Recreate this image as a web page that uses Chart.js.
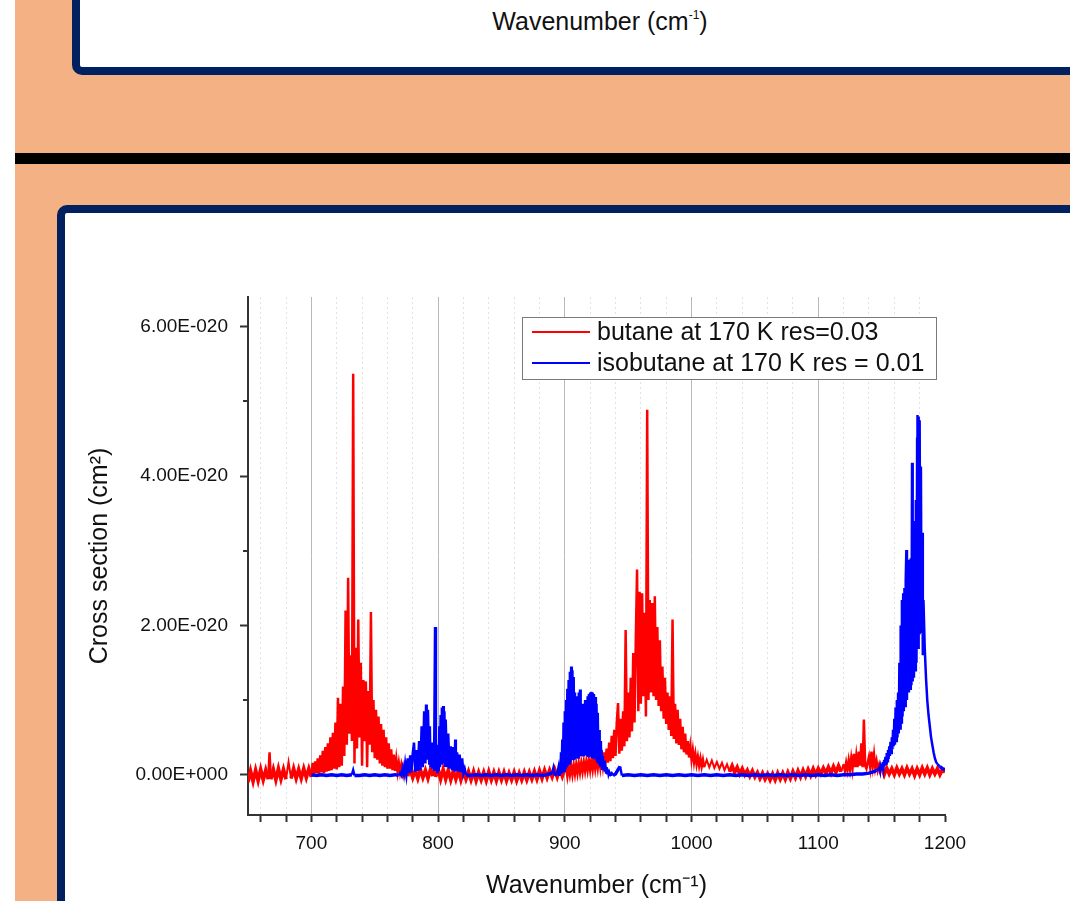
<!DOCTYPE html>
<html><head><meta charset="utf-8">
<script src="https://cdn.jsdelivr.net/npm/chart.js@4.4.1/dist/chart.umd.min.js"></script>
<style>
html,body{margin:0;padding:0;background:#fff;width:1070px;height:901px;overflow:hidden;font-family:'Liberation Sans',Arial,sans-serif;}
#bg{position:absolute;left:15px;top:0;width:1055px;height:901px;background:#F4B183;}
#topPanel{position:absolute;left:72px;top:-30px;width:1040px;height:105px;box-sizing:border-box;border:8px solid #002060;border-radius:10px;background:#fff;}
#topTitle{position:absolute;left:130px;width:940px;top:9px;text-align:center;font-size:25px;line-height:24px;color:#111;}
#topTitle sup{font-size:12px;line-height:0;vertical-align:0;position:relative;top:-11px;}
#bar{position:absolute;left:15px;top:153px;width:1055px;height:11px;background:#000;}
#botPanel{position:absolute;left:57px;top:205px;width:1060px;height:760px;box-sizing:border-box;border:8px solid #002060;border-radius:10px;background:#fff;}
#c{position:absolute;left:0;top:0;}
</style></head>
<body>
<div id="bg"></div>
<div id="topPanel"></div>
<div id="topTitle">Wavenumber (cm<sup>-1</sup>)</div>
<div id="bar"></div>
<div id="botPanel"></div>
<canvas id="c" width="1070" height="901"></canvas>
<script>
// ---- Data (cross section in units of 1E-20 cm^2) ----
const seriesLabels = ['butane at 170 K res=0.03', 'isobutane at 170 K res = 0.01'];

const butaneWn = [
  650,652,654,656,658,660,662,664,666,667,668,670,672,674,676,678,680,682,684,686,688,690,692,694,696,698,700,
  701,702,703,704,705,706,707,708,709,710,
  711,712,713,714,715,716,717,718,719,720,
  721,722,723,724,725,726,727,728,729,730,
  731,732,733,734,735,736,737,738,739,740,
  741,742,743,744,745,746,747,748,749,750,
  751,752,753,754,755,756,757,758,759,760,
  761,762,763,764,765,766,767,768,769,770,
  771,772,773,774,775,776,778,780,
  782,784,786,788,790,792,794,796,797,
  798,800,802,804,806,808,810,812,
  814,816,818,820,822,824,826,828,
  830,832,834,836,838,840,842,844,
  846,848,850,852,854,856,858,860,
  862,864,866,868,870,872,874,876,
  878,880,882,884,886,888,890,892,
  894,896,898,900,
  901,902,903,904,905,906,907,908,909,910,
  911,912,913,914,915,916,917,918,919,920,
  921,922,923,924,925,926,927,928,929,930,
  931,932,933,934,935,936,937,938,939,940,
  941,942,943,944,945,946,947,948,949,950,
  951,952,953,954,955,956,957,958,959,960,
  961,962,963,964,965,966,967,968,969,970,
  971,972,973,974,975,976,977,978,979,980,
  981,982,983,984,985,986,987,988,989,990,
  991,992,993,994,995,996,997,998,999,1000,
  1001,1002,1003,1004,1005,1006,1007,1008,1009,1010,
  1012,1014,1016,1018,1020,1022,1024,1026,
  1028,1030,1032,1034,1036,1038,1040,1042,
  1044,1046,1048,1050,1052,1054,1056,1058,
  1060,1062,1064,1066,1068,1070,1072,1074,
  1076,1078,1080,1082,1084,1086,1088,1090,
  1092,1094,1096,1098,1100,1102,1104,1106,
  1108,1110,1112,1114,1116,1118,
  1120,1121,1122,1123,1124,1125,1126,1127,1128,1129,
  1130,1131,1132,1133,1134,1135,1136,1137,1138,1139,
  1140,1141,1142,1143,1144,1145,1146,1147,1148,1149,1150,
  1152,1154,1156,1158,1160,1162,1164,1166,
  1168,1170,1172,1174,1176,1178,1180,1182,
  1184,1186,1188,1190,1192,1194,1196,1198,
  1200
];
const butaneCs = [
  -0.10,0.05,-0.09,0.06,-0.08,0.07,-0.07,0.06,-0.06,0.30,-0.06,0.07,-0.07,0.08,-0.06,0.07,-0.06,0.17,-0.05,0.08,-0.05,0.07,-0.05,0.08,-0.04,0.08,-0.03,
  0.16,0.00,0.18,0.02,0.22,0.01,0.26,0.03,0.32,0.02,
  0.37,0.04,0.42,0.05,0.50,0.06,0.56,0.08,0.70,0.07,
  1.03,0.10,0.95,0.12,1.18,0.25,2.20,0.40,2.64,0.55,
  1.60,0.45,5.37,0.15,1.70,0.35,2.08,0.50,1.50,0.12,
  1.27,0.45,1.25,0.10,1.12,0.40,2.18,0.30,1.00,0.22,
  0.87,0.20,0.78,0.15,0.68,0.12,0.60,0.10,0.50,0.08,
  0.42,0.08,0.34,0.06,0.27,0.05,0.21,0.04,0.16,0.03,
  0.13,0.02,0.11,0.01,0.10,-0.02,0.07,-0.04,
  0.06,-0.05,0.07,-0.04,0.06,-0.05,0.07,-0.02,0.12,
  -0.03,0.08,-0.06,0.07,-0.06,0.06,-0.07,0.05,
  -0.06,0.06,-0.07,0.05,-0.06,0.04,-0.07,0.04,
  -0.08,0.03,-0.07,0.03,-0.08,0.04,-0.07,0.03,
  -0.08,0.03,-0.07,0.03,-0.08,0.02,-0.07,0.03,
  -0.08,0.02,-0.07,0.03,-0.07,0.03,-0.06,0.04,
  -0.06,0.05,-0.05,0.06,-0.04,0.06,-0.03,0.07,
  -0.03,0.08,-0.02,0.09,
  0.10,-0.02,0.11,0.00,0.12,0.00,0.13,0.01,0.14,0.02,
  0.15,0.03,0.16,0.04,0.17,0.05,0.18,0.06,0.19,0.06,
  0.20,0.07,0.21,0.08,0.22,0.09,0.24,0.10,0.27,0.12,
  0.30,0.14,0.35,0.16,0.43,0.18,0.52,0.22,0.60,0.25,
  0.70,0.96,0.28,0.75,0.32,0.85,0.38,1.94,0.45,1.10,
  0.50,1.30,0.58,1.63,0.70,1.80,2.75,0.85,2.45,0.95,
  2.43,1.05,2.17,0.78,4.89,1.00,2.34,1.10,2.30,1.05,
  2.39,1.00,1.98,0.92,1.80,0.85,1.45,0.75,1.30,0.68,
  1.10,0.60,1.05,0.52,2.08,0.48,0.95,0.42,0.87,0.40,
  0.75,0.34,0.64,0.30,0.55,0.27,0.45,0.23,0.38,0.20,
  0.33,0.17,0.28,0.14,0.24,0.12,0.22,0.11,0.20,0.10,
  0.20,0.10,0.19,0.09,0.17,0.08,0.16,0.06,
  0.14,0.04,0.12,0.03,0.10,0.01,0.08,0.00,
  0.06,-0.02,0.05,-0.03,0.03,-0.05,0.02,-0.06,
  0.01,-0.07,0.01,-0.07,0.02,-0.06,0.02,-0.06,
  0.03,-0.05,0.04,-0.04,0.05,-0.03,0.06,-0.02,
  0.07,-0.01,0.08,0.00,0.08,0.01,0.09,0.02,
  0.10,0.02,0.11,0.03,0.12,0.04,
  0.14,0.05,0.16,0.06,0.19,0.07,0.22,0.08,0.28,0.10,
  0.26,0.10,0.31,0.12,0.42,0.10,0.74,0.12,0.08,0.16,
  0.24,0.10,0.31,0.12,0.27,0.09,0.18,0.06,0.13,0.04,0.10,
  0.00,0.09,0.01,0.08,0.00,0.09,0.01,0.08,
  0.00,0.09,0.01,0.08,-0.01,0.08,0.00,0.09,
  0.01,0.09,0.00,0.08,0.01,0.08,0.00,0.07,
  0.03
];

const isobutaneWn = [
  700,704,708,712,716,720,724,728,732,733,734,738,742,746,750,754,758,762,766,769,
  770,771,772,773,774,775,776,777,778,779,780,781,782,783,784,785,786,787,788,789,790,
  790.5,791,792,793,793.5,794,795,795.5,796,796.8,797.6,798.3,799,799.5,
  800,800.5,801,801.5,802,802.5,803,803.5,804,804.5,805,805.5,806,807,808,809,810,811,812,813,813.5,
  814,815,816,817,818,819,820,821,822,
  826,830,834,838,842,846,850,854,858,862,866,870,874,878,882,886,890,891,892,894,
  895,895.5,896,896.5,897,897.5,898,898.5,899,899.5,
  900,900.5,901,901.5,902,902.5,903,903.5,904,904.5,
  905,905.5,906,906.5,907,907.5,908,908.5,909,909.5,
  910,910.5,911,911.5,912,912.5,913,913.5,914,914.5,
  915,915.5,916,916.5,917,917.5,918,918.5,919,919.5,
  920,920.5,921,921.5,922,922.5,923,923.5,924,924.5,
  925,925.5,926,926.5,927,927.5,928,928.5,929,929.5,
  930,930.5,931,931.5,932,932.5,933,933.5,934,934.5,
  935,936,937,938,
  940,943.6,945,950,955,960,965,970,975,980,985,990,995,1000,
  1005,1010,1015,1020,1025,1030,1035,1040,1045,1050,1055,1060,1065,1070,
  1075,1080,1085,1090,1095,1100,1105,1110,1115,1120,1125,1130,1135,1140,
  1144,1146,
  1147,1148,1148.5,1149,1149.5,1150,1150.5,1151,1151.5,1152,
  1152.5,1153,1153.5,1154,1154.5,1155,1155.5,1156,1156.5,1157,
  1157.5,1158,1158.5,1159,1159.5,1160,1160.5,1161,1161.5,1162,
  1162.5,1163,1163.5,1164,1164.5,1165,1165.5,1166,1166.5,1167,
  1167.5,1168,1168.5,1169,1169.5,1170,1170.5,1171,1171.5,1172,
  1172.5,1173,1173.5,1174,1174.5,1175,1175.5,1176,1176.5,1177,
  1177.5,1178,1178.3,1178.8,1179.2,1179.6,1180,1180.5,1181,1181.5,
  1182,1182.5,1183,1184,1185,1186,1187,1188,1189,1190,
  1191,1192,1193,1194,1196,1198,1200
];
const isobutaneCs = [
  0.00,-0.01,0.00,-0.01,0.00,-0.01,0.00,-0.01,0.00,0.06,-0.01,-0.01,0.00,-0.01,0.00,-0.01,0.00,-0.01,0.00,-0.01,
  0.02,-0.01,0.09,0.00,0.15,0.01,0.22,0.02,0.26,0.03,0.29,0.43,0.04,0.33,0.05,0.45,0.06,0.65,0.10,0.85,0.15,
  0.94,0.20,0.87,0.15,0.65,0.10,0.43,0.08,0.24,0.05,1.98,0.06,0.12,0.02,
  0.40,0.05,0.65,0.10,0.80,0.15,0.90,0.18,0.92,0.15,0.85,0.12,0.74,0.10,0.55,0.08,0.38,0.06,0.37,0.04,0.47,
  0.05,0.30,0.04,0.27,0.03,0.22,0.02,0.08,0.00,
  -0.01,0.00,-0.01,0.00,-0.01,0.00,-0.01,0.00,-0.01,0.00,-0.01,0.00,-0.01,0.00,-0.01,0.00,0.02,0.09,-0.01,0.02,
  0.10,0.00,0.16,0.01,0.30,0.02,0.47,0.03,0.70,0.05,
  0.85,0.07,1.00,0.10,1.15,0.12,1.27,0.15,1.38,0.17,
  1.45,0.20,1.40,0.21,1.31,0.22,1.10,0.22,0.92,0.23,
  1.05,0.23,1.10,0.24,1.14,0.25,0.95,0.25,0.83,0.26,
  0.95,0.26,1.00,0.26,1.00,0.25,1.05,0.25,1.08,0.25,
  1.10,0.24,1.11,0.24,1.10,0.23,1.08,0.22,1.04,0.20,
  0.95,0.18,0.83,0.15,0.60,0.12,0.45,0.10,0.33,0.08,
  0.25,0.06,0.19,0.04,0.14,0.03,0.10,0.02,0.07,0.01,
  0.04,0.00,0.02,-0.01,
  0.01,0.11,-0.01,0.00,-0.01,0.00,-0.01,0.00,-0.01,0.00,-0.01,0.00,-0.01,0.00,
  -0.01,0.00,-0.01,0.00,-0.01,0.00,-0.01,0.00,-0.01,0.00,-0.01,0.00,-0.01,0.00,
  -0.01,0.00,-0.01,0.00,-0.01,0.00,-0.01,0.00,-0.01,0.00,0.00,0.01,0.01,0.02,
  0.04,0.06,
  0.07,0.09,0.06,0.11,0.07,0.15,0.09,0.17,0.10,0.20,
  0.12,0.24,0.15,0.29,0.18,0.33,0.21,0.38,0.25,0.44,
  0.29,0.50,0.34,0.60,0.38,0.75,0.40,0.90,0.45,1.00,
  0.50,1.10,0.55,1.50,0.62,2.00,0.70,2.34,0.78,2.43,
  0.85,2.50,0.92,2.60,3.01,1.00,2.70,2.88,1.10,2.60,
  1.15,2.90,1.20,4.18,1.25,3.20,1.30,3.40,1.40,3.68,
  1.50,4.50,4.82,1.70,4.80,1.90,4.75,2.00,4.13,1.90,
  3.24,1.60,2.34,1.70,1.30,1.00,0.80,0.65,0.50,0.40,
  0.30,0.22,0.17,0.14,0.11,0.08,0.07
];

const xRange = [650, 1200];
const yRange = [-0.54, 6.4];
const xTickStep = 20;
const xLabelStep = 100;
const yTickStep = 2;
const yMinorTicks = [1, 3, 5];

// ---- Chart ----
Chart.defaults.font.family = "'Liberation Sans', Arial, sans-serif";

const toPoints = (xs, ys) => xs.map((x, i) => ({x: x, y: ys[i]}));

// thicker strokes for the noisy baseline and dense band segments so they read as solid noise
const segWidth = (baseW, bandW, thinW) => c => {
  const a = c.p0.parsed, b = c.p1.parsed;
  const dx = b.x - a.x;
  if (dx >= 2 && Math.abs(a.y) < 0.13 && Math.abs(b.y) < 0.13) return baseW;
  if (dx <= 1.01) return bandW;
  return thinW;
};

const minorTickPlugin = {
  id: 'minorTicks',
  afterDraw(chart) {
    const ys = chart.scales.y, x0 = chart.chartArea.left, ctx = chart.ctx;
    ctx.save();
    ctx.strokeStyle = '#333'; ctx.lineWidth = 2;
    yMinorTicks.forEach(v => {
      const py = Math.round(ys.getPixelForValue(v));
      ctx.beginPath(); ctx.moveTo(x0 - 5, py); ctx.lineTo(x0, py); ctx.stroke();
    });
    ctx.restore();
  }
};

const legendPlugin = {
  id: 'boxLegend',
  afterDraw(chart) {
    const ctx = chart.ctx;
    const bx = 522, by = 317, bw = 414, bh = 62;
    ctx.save();
    ctx.fillStyle = '#fff';
    ctx.fillRect(bx, by, bw, bh);
    ctx.strokeStyle = '#7a7a7a'; ctx.lineWidth = 1;
    ctx.strokeRect(bx + 0.5, by + 0.5, bw, bh);
    ctx.font = "25px 'Liberation Sans', Arial, sans-serif";
    ctx.textBaseline = 'middle';
    ctx.fillStyle = '#111';
    chart.data.datasets.forEach((ds, i) => {
      const cy = by + 15 + i * 31;
      ctx.strokeStyle = ds.borderColor; ctx.lineWidth = 2;
      ctx.beginPath(); ctx.moveTo(bx + 10, cy); ctx.lineTo(bx + 68, cy); ctx.stroke();
      ctx.fillText(ds.label, bx + 75, cy + 1);
    });
    ctx.restore();
  }
};

new Chart(document.getElementById('c'), {
  type: 'line',
  data: {
    datasets: [
      { label: seriesLabels[0], data: toPoints(butaneWn, butaneCs), borderColor: '#ff0000', borderWidth: 2, pointRadius: 0, order: 2,
        segment: { borderWidth: segWidth(3.6, 2.5, 2) } },
      { label: seriesLabels[1], data: toPoints(isobutaneWn, isobutaneCs), borderColor: '#0000ff', borderWidth: 2.2, pointRadius: 0, order: 1,
        segment: { borderWidth: segWidth(3.4, 2.5, 2.4) } }
    ]
  },
  options: {
    responsive: false,
    animation: false,
    devicePixelRatio: 1,
    layout: { padding: { left: 0, top: 297, right: 125, bottom: 0 } },
    plugins: { legend: { display: false }, tooltip: { enabled: false } },
    scales: {
      x: {
        type: 'linear', min: xRange[0], max: xRange[1],
        ticks: {
          stepSize: xTickStep, includeBounds: false, autoSkip: false, maxRotation: 0,
          padding: 10, color: '#111', font: { size: 19 },
          callback: v => (v % xLabelStep === 0 ? String(v) : '')
        },
        grid: {
          drawOnChartArea: true,
          color: c => {
            const v = c.tick ? c.tick.value : 0;
            if (v >= xRange[1]) return 'rgba(0,0,0,0)';
            return v % xLabelStep === 0 ? '#b8b8b8' : '#e2e2e2';
          },
          lineWidth: 1, tickLength: 7, tickColor: '#333', tickWidth: 2
        },
        border: {
          display: true, color: '#333', width: 2,
          dash: c => (c.tick && c.tick.value % xLabelStep !== 0 ? [2, 3] : [])
        },
        title: { display: true, text: 'Wavenumber (cm⁻¹)', color: '#111', font: { size: 25 }, padding: { top: 0, bottom: 0 } },
        afterFit: s => { s.height = 86; }
      },
      y: {
        type: 'linear', min: yRange[0], max: yRange[1],
        ticks: {
          stepSize: yTickStep, includeBounds: false, padding: 12, color: '#111', font: { size: 19 },
          callback: v => (v === 0 ? '0.00E+000' : v.toFixed(2) + 'E-020')
        },
        grid: { drawOnChartArea: false, tickLength: 8, tickColor: '#333', tickWidth: 2 },
        border: { display: true, color: '#333', width: 2 },
        title: { display: true, text: 'Cross section (cm²)', color: '#111', font: { size: 25 }, padding: { top: 85, bottom: 0 } },
        afterFit: s => { s.width = 248; }
      }
    }
  },
  plugins: [minorTickPlugin, legendPlugin]
});
</script>
</body></html>
